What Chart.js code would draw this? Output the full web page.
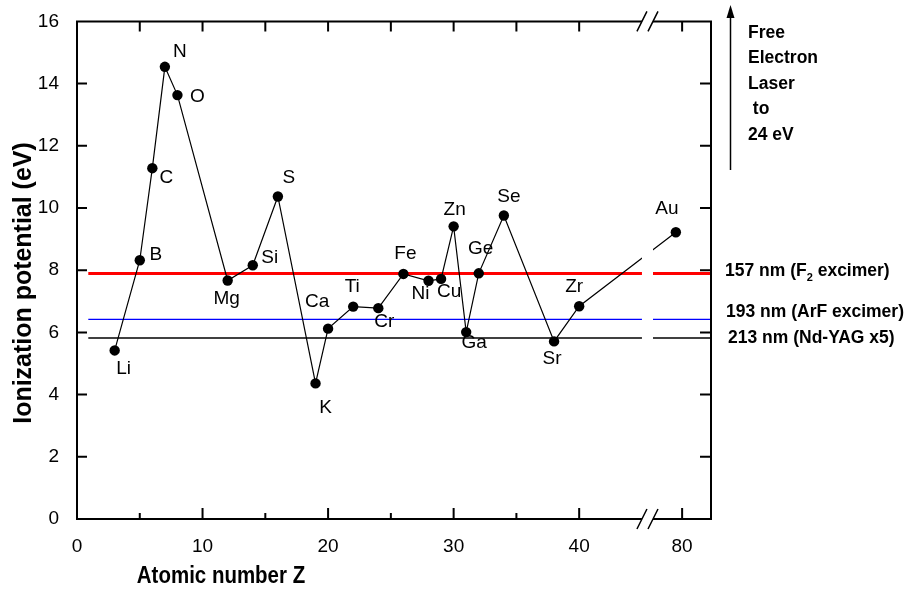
<!DOCTYPE html>
<html>
<head>
<meta charset="utf-8">
<title>Ionization potential vs atomic number</title>
<script src="https://cdn.jsdelivr.net/npm/chart.js@4.4.0/dist/chart.umd.min.js"></script>
<style>
  html, body { margin: 0; padding: 0; background: #fff; }
  #chart { display: block; }
</style>
</head>
<body>
<canvas id="chart" width="913" height="593"></canvas>
<script>
// element data
const elements = ["Li", "B", "C", "N", "O", "Mg", "Si", "S", "K", "Ca", "Ti", "Cr",
  "Fe", "Ni", "Cu", "Zn", "Ga", "Ge", "Se", "Sr", "Zr", "Au"];
const atomicNumbers = [3, 5, 6, 7, 8, 12, 14, 16, 19, 20, 22, 24, 26, 28, 29, 30, 31, 32, 34, 38, 40, 79];
const ionizationEV = [5.42, 8.32, 11.28, 14.54, 13.63, 7.67, 8.16, 10.37, 4.36, 6.12, 6.83, 6.78,
  7.88, 7.66, 7.72, 9.41, 6.01, 7.90, 9.76, 5.71, 6.84, 9.22];

// laser photon energies (horizontal lines)
const laserNames = ["157 nm (F\u2082 excimer)", "193 nm (ArF excimer)", "213 nm (Nd-YAG x5)"];
const laserEV = [7.89, 6.42, 5.82];
const laserStartZ = 0.9;

const felLines = ["Free", "Electron", "Laser", " to", "24 eV"];

// axes
const xTickZ = [0, 10, 20, 30, 40, 80];
const xMinorZ = [5, 15, 25, 35];
const yTicks = [0, 2, 4, 6, 8, 10, 12, 14, 16];

// broken x axis: everything after the break is squeezed next to it
const xMax = 50.5;
const breakGap = [45.0, 45.88];
function axisX(z) {
  return z <= 46 ? z : 48.2 + (z - 80) * 0.5;
}

const FONT = '"Liberation Sans", Arial, Helvetica, sans-serif';

// label placement relative to each dot (px)
const labelOffsets = [[9, 18], [16, -5], [14, 10], [15, -15], [20, 2], [-1, 18], [17, -7], [11, -19],
  [10, 24], [-11, -27], [-1, -20], [6, 14], [2, -20], [-8, 13], [8, 13], [1, -17], [8, 11],
  [2, -25], [5, -19], [-2, 17], [-5, -20], [-9, -23]];

function drawScaled(ctx, text, x, y, font, sx, rot) {
  ctx.save();
  ctx.translate(x, y);
  if (rot) ctx.rotate(rot);
  ctx.scale(sx, 1);
  ctx.font = font;
  ctx.textAlign = "center";
  ctx.textBaseline = "middle";
  ctx.fillText(text, 0, 0);
  ctx.restore();
}

const framePlugin = {
  id: "frame",
  afterDatasetsDraw(chart) {
    const ctx = chart.ctx;
    const a = chart.chartArea;
    const x = chart.scales.x;
    const y = chart.scales.y;
    const g0 = x.getPixelForValue(breakGap[0]);
    const g1 = x.getPixelForValue(breakGap[1]);

    ctx.save();
    // gap of the axis break
    ctx.fillStyle = "#fff";
    ctx.fillRect(g0, a.top + 1, g1 - g0, a.bottom - a.top - 2);

    ctx.strokeStyle = "#000";
    ctx.lineWidth = 2;
    ctx.beginPath();
    ctx.moveTo(a.left, a.top - 1); ctx.lineTo(a.left, a.bottom + 1);
    ctx.moveTo(a.right, a.top - 1); ctx.lineTo(a.right, a.bottom + 1);
    [a.top, a.bottom].forEach(py => {
      ctx.moveTo(a.left, py); ctx.lineTo(g0, py);
      ctx.moveTo(g1, py); ctx.lineTo(a.right, py);
    });
    // y ticks, inside on both sides
    yTicks.forEach(v => {
      const py = y.getPixelForValue(v);
      ctx.moveTo(a.left, py); ctx.lineTo(a.left + 10, py);
      ctx.moveTo(a.right - 11, py); ctx.lineTo(a.right, py);
    });
    // x ticks
    xTickZ.forEach(z => {
      const px = x.getPixelForValue(axisX(z));
      ctx.moveTo(px, a.bottom); ctx.lineTo(px, a.bottom - 11);
      ctx.moveTo(px, a.top); ctx.lineTo(px, a.top + 10);
    });
    xMinorZ.forEach(z => {
      const px = x.getPixelForValue(axisX(z));
      ctx.moveTo(px, a.bottom); ctx.lineTo(px, a.bottom - 6);
      ctx.moveTo(px, a.top); ctx.lineTo(px, a.top + 10);
    });
    ctx.stroke();

    // break marks
    ctx.lineWidth = 1.5;
    ctx.beginPath();
    [g0, g1].forEach(gx => {
      [a.top, a.bottom].forEach(py => {
        ctx.moveTo(gx - 5, py + 10); ctx.lineTo(gx + 5, py - 10);
      });
    });
    ctx.stroke();

    // element labels
    ctx.fillStyle = "#000";
    ctx.font = "19px " + FONT;
    ctx.textAlign = "center";
    ctx.textBaseline = "middle";
    const meta = chart.getDatasetMeta(0);
    meta.data.forEach((pt, i) => {
      const off = labelOffsets[i];
      ctx.fillText(elements[i], pt.x + off[0], pt.y + off[1]);
    });

    // free electron laser arrow
    const ax = a.right + 19.5;
    ctx.lineWidth = 1.5;
    ctx.beginPath();
    ctx.moveTo(ax, 170); ctx.lineTo(ax, 14);
    ctx.stroke();
    ctx.beginPath();
    ctx.moveTo(ax, 5); ctx.lineTo(ax - 4, 18); ctx.lineTo(ax + 4, 18);
    ctx.closePath();
    ctx.fill();

    ctx.font = "bold 17.5px " + FONT;
    ctx.textAlign = "left";
    felLines.forEach((t, i) => ctx.fillText(t, a.right + 37, 33 + i * 25.5));

    // laser line names
    const nameDy = [-2, -7, 0];
    const nameDx = [14, 15, 17];
    laserNames.forEach((name, i) => {
      let px = a.right + nameDx[i];
      const py = y.getPixelForValue(laserEV[i]) + nameDy[i];
      const parts = name.split("\u2082");
      ctx.font = "bold 17.5px " + FONT;
      ctx.fillText(parts[0], px, py);
      if (parts.length > 1) {
        px += ctx.measureText(parts[0]).width;
        ctx.font = "bold 11px " + FONT;
        ctx.fillText("2", px, py + 6);
        px += ctx.measureText("2").width;
        ctx.font = "bold 17.5px " + FONT;
        ctx.fillText(parts[1], px, py);
      }
    });

    // axis titles
    drawScaled(ctx, "Atomic number Z", 221, 577, "bold 23px " + FONT, 0.89, 0);
    drawScaled(ctx, "Ionization potential (eV)", 24, 283, "bold 26px " + FONT, 0.96, -Math.PI / 2);
    ctx.restore();
  }
};

const points = atomicNumbers.map((z, i) => ({ x: axisX(z), y: ionizationEV[i] }));
const laserColors = ["#ff0000", "#0000ff", "#000000"];
const laserWidths = [3, 1.3, 1.3];

const datasets = [{
  label: "Ionization potential",
  data: points,
  showLine: true,
  borderColor: "#000",
  borderWidth: 1.2,
  pointRadius: 5.2,
  pointBackgroundColor: "#000",
  pointBorderWidth: 0,
  tension: 0,
  order: 1
}];
laserEV.forEach((e, i) => {
  datasets.push({
    label: laserNames[i],
    data: [{ x: laserStartZ, y: e }, { x: xMax, y: e }],
    showLine: true,
    borderColor: laserColors[i],
    borderWidth: laserWidths[i],
    pointRadius: 0,
    order: 2
  });
});

const tickFont = { family: FONT, size: 19 };

new Chart(document.getElementById("chart").getContext("2d"), {
  type: "scatter",
  data: { datasets: datasets },
  options: {
    responsive: false,
    animation: false,
    layout: { padding: { top: 17, right: 202, bottom: 0, left: 0 } },
    plugins: { legend: { display: false }, tooltip: { enabled: false } },
    scales: {
      x: {
        type: "linear",
        min: 0,
        max: xMax,
        grid: { display: false },
        border: { display: false },
        afterBuildTicks: s => { s.ticks = xTickZ.map(z => ({ value: axisX(z) })); },
        afterFit: s => { s.height = 74; },
        ticks: {
          autoSkip: false,
          maxRotation: 0,
          padding: 8,
          color: "#000",
          font: tickFont,
          callback: (v, i) => String(xTickZ[i])
        }
      },
      y: {
        min: 0,
        max: 16,
        grid: { display: false },
        border: { display: false },
        afterFit: s => { s.width = 77; },
        ticks: { stepSize: 2, padding: 10, color: "#000", font: tickFont }
      }
    }
  },
  plugins: [framePlugin]
});
</script>
</body>
</html>
